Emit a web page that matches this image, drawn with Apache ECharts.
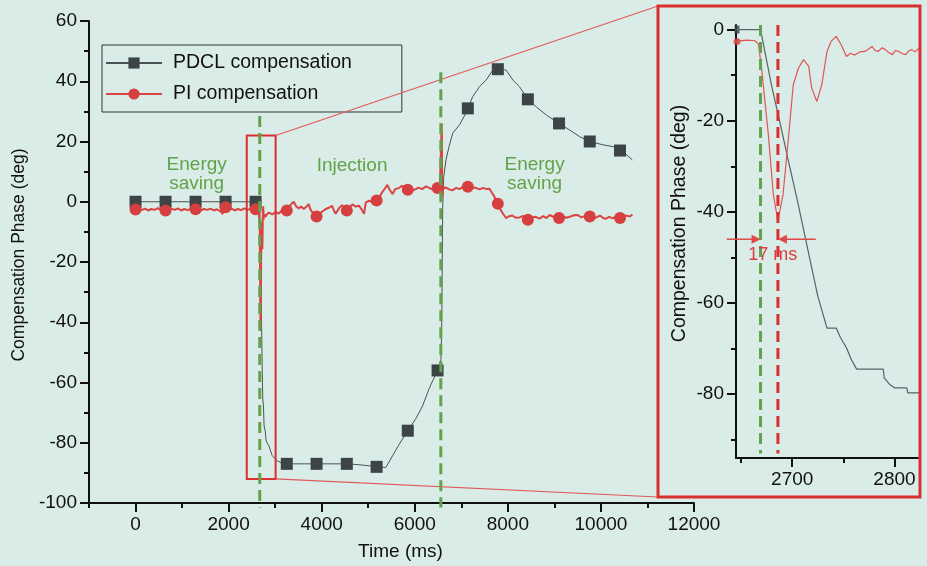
<!DOCTYPE html>
<html>
<head>
<meta charset="utf-8">
<script src="https://cdn.jsdelivr.net/npm/echarts@6/dist/echarts.min.js"></script>
<style>
html, body { margin: 0; padding: 0; background: #d9ece7; }
#chart { width: 927px; height: 566px; }
</style>
</head>
<body>
<div id="chart"></div>
<script>
// marker positions (ms) shared by both curves
var markerTime = [0, 645, 1290, 1935, 2580, 3250, 3890, 4540, 5180, 5850, 6490, 7140, 7785, 8430, 9100, 9760, 10410];
var pdclMarker = [0, 0, 0, 0, 0, -87, -87, -87, -88, -76, -56, 31, 44, 34, 26, 20, 17];
var piMarker = [-2.6, -2.9, -2.5, -1.8, -2.5, -2.9, -4.9, -2.9, 0.4, 4.0, 4.6, 5.0, -0.7, -6.0, -5.4, -4.9, -5.4];

// PDCL compensation trace [time, phase]
var pdclTrace = [
  [0, 0], [2669, 0], [2680, -12.5], [2688, -20.4], [2696, -28.6], [2705, -37.5], [2715, -48],
  [2725, -58.5], [2734, -65.5], [2743, -65.5], [2747, -67.5], [2753, -69.8], [2758, -72.5],
  [2763, -74.5], [2789, -74.5], [2790, -76.4], [2795, -77.8], [2800, -78.6], [2812, -78.6],
  [2813, -79.7], [2830, -79.7], [2865, -81], [2937, -84.3], [3044, -86], [3152, -86.8],
  [3250, -87], [3890, -87], [4540, -87], [4800, -87.3], [5000, -87.6], [5180, -88], [5378, -88.2],
  [5523, -84.3], [5666, -80.5], [5850, -76], [6023, -72], [6167, -67.8], [6310, -62], [6382, -59.5],
  [6490, -56], [6563, -52.3], [6580, -40], [6590, -20], [6600, -2], [6620, 8], [6672, 14],
  [6740, 18.5], [6816, 22.8], [6960, 25.5], [7100, 29.5], [7140, 31], [7245, 34.9], [7390, 38.2],
  [7533, 40.4], [7677, 43.7], [7785, 44], [7964, 43.7], [8107, 40.4], [8250, 38.2], [8430, 34],
  [8610, 31.5], [8826, 28.8], [9100, 26], [9328, 23.8], [9543, 21.6], [9760, 20], [10045, 18.9],
  [10260, 18.3], [10410, 17], [10547, 15.6], [10676, 13.9]
];

// PI compensation trace [time, phase]
var piTrace = [
  [0, -2.6], [60, -2.2], [130, -2.8], [200, -2.3], [270, -2.9], [340, -2.4], [410, -2.7], [480, -2.1],
  [550, -2.8], [620, -2.5], [700, -2.9], [770, -2.3], [840, -2.7], [910, -2.2], [980, -2.9], [1050, -2.4],
  [1120, -2.8], [1190, -2.3], [1260, -2.6], [1330, -2.2], [1400, -2.9], [1470, -2.4], [1540, -2.7],
  [1610, -2.3], [1680, -2.9], [1750, -2.5], [1820, -3.1], [1870, -4.0], [1935, -1.8], [1990, -2.6],
  [2060, -2.3], [2130, -2.9], [2200, -2.4], [2270, -2.8], [2340, -2.2], [2410, -2.7], [2480, -2.3],
  [2550, -2.9], [2600, -2.4], [2645, -2.6], [2655, -2.3], [2663, -2.4], [2667, -3.2],
  [2670, -8.5], [2676.6, -23], [2681.5, -36.2], [2686, -42], [2691, -36.2], [2696, -24.5], [2701, -12.1],
  [2706, -8.5], [2711, -6.6], [2716, -8], [2719, -12.8], [2724, -15.8], [2729, -12], [2734, -4.8],
  [2738, -2.6], [2743, -1.5], [2748, -3.4], [2753, -5.9], [2757, -5.2], [2761, -5.6], [2766, -4.9],
  [2771, -4.8], [2775, -4.2], [2778, -3.7], [2781, -4.6], [2784, -4.8], [2788, -4.0], [2791, -4.4],
  [2794, -5.0], [2798, -5.5], [2801, -4.6], [2804, -4.8], [2808, -5.3], [2811, -5.5], [2814, -4.7],
  [2817, -4.4], [2820, -4.9], [2824, -4.1],
  [2870, -3.6], [2940, -4.2], [3010, -3.4], [3080, -3.9], [3150, -2.8], [3250, -2.9], [3320, -1.2],
  [3400, 0], [3450, -1.5], [3505, -2.2], [3560, -1.6], [3613, -2.4], [3680, -1.5], [3720, -0.8],
  [3760, -2.6], [3800, -3.5], [3890, -4.9], [3950, -4.0], [4007, -3.3], [4080, -2.5], [4150, -2.0],
  [4222, -1.4], [4260, -2.8], [4300, -4.0], [4370, -2.2], [4437, -1.1], [4490, -2.4], [4540, -2.9],
  [4600, -1.8], [4660, -0.9], [4730, -1.6], [4800, -1.3], [4860, -2.6], [4910, -4.0], [4947, -0.3],
  [5020, 0.4], [5090, -0.2], [5180, 0.4], [5240, 1.6], [5305, 3.3], [5360, 4.4], [5410, 5.6],
  [5460, 4.0], [5523, 2.6], [5580, 4.2], [5666, 4.6], [5720, 5.3], [5775, 4.9], [5850, 4.0],
  [5900, 3.4], [5940, 3.0], [6010, 4.1], [6080, 4.7], [6160, 4.2], [6240, 5.1], [6310, 4.6],
  [6380, 4.0], [6440, 5.0], [6490, 4.6], [6540, 5.6], [6570, 5.0], [6580, 26], [6590, 1.8],
  [6610, 4.2], [6660, 4.8], [6740, 4.1], [6816, 3.8], [6890, 4.6], [6960, 4.2], [7040, 4.9],
  [7140, 5.0], [7220, 4.4], [7300, 4.7], [7390, 4.1], [7470, 4.6], [7540, 4.2], [7605, 4.3],
  [7640, 3.8], [7700, 2.0], [7785, -0.7], [7840, -2.6], [7890, -3.8], [7960, -5.4], [8030, -4.8],
  [8100, -4.6], [8170, -5.3], [8250, -5.2], [8330, -4.7], [8430, -6.0], [8510, -5.2], [8600, -5.0],
  [8680, -5.6], [8760, -4.8], [8830, -5.4], [8900, -4.4], [8990, -5.1], [9100, -5.4], [9180, -4.8],
  [9260, -5.3], [9330, -5.0], [9420, -4.5], [9500, -4.4], [9580, -5.2], [9660, -4.7], [9760, -4.9],
  [9830, -5.5], [9900, -5.2], [9980, -4.6], [10050, -5.4], [10100, -5.7], [10180, -5.0], [10250, -5.5],
  [10330, -4.9], [10410, -5.4], [10480, -4.8], [10550, -4.6], [10620, -4.9], [10676, -4.2]
];

// ticks
var xMajor = [0, 2000, 4000, 6000, 8000, 10000, 12000];
var xMinor = [-1000, 1000, 3000, 5000, 7000, 9000, 11000];
var insetXMajor = [2700, 2800];
var insetXMinor = [2650, 2750];
var insetYMajor = [-80, -60, -40, -20, 0];
var insetYMinor = [-90, -70, -50, -30, -10];

// inset edge markers (half hidden at the left axis)
var insetEdgeTime = [2646];
var insetEdgePdcl = [0];
var insetEdgePi = [-2.6];

var switchTime = [2669, 6560];
var peakTime = 2686;

var FONT = 'Liberation Sans';
var BLACK = '#111';
var GREEN = '#62a34a';
var RED = '#dc4343';
var GRAY = '#4b5355';

function withMarkers(trace, values) {
  var items = trace.map(function (p) { return { value: p, symbol: 'none' }; });
  markerTime.forEach(function (t, i) {
    items.push({ value: [t, values[i]] });
  });
  items.sort(function (a, b) { return a.value[0] - b.value[0]; });
  return items;
}

function axisBase(grid, min, max) {
  return {
    gridIndex: grid, type: 'value', min: min, max: max,
    axisLine: { show: true, onZero: false, lineStyle: { color: BLACK, width: 2 } },
    axisTick: { show: true, length: 9, lineStyle: { color: BLACK, width: 2 } },
    axisLabel: { fontSize: 19, color: BLACK, fontFamily: FONT, margin: 12,
      formatter: function (v) { return String(v); } },
    splitLine: { show: false }
  };
}
function minorAxis(grid, min, max, pos, values) {
  return {
    gridIndex: grid, type: 'value', min: min, max: max, position: pos,
    axisLine: { show: false, onZero: false },
    axisLabel: { show: false },
    axisTick: { show: true, length: 5, customValues: values, lineStyle: { color: BLACK, width: 2 } },
    splitLine: { show: false }
  };
}

var xMain = axisBase(0, -1000, 12000);
xMain.position = 'bottom';
xMain.axisTick.customValues = xMajor;
xMain.axisLabel.customValues = xMajor;
xMain.name = 'Time (ms)';
xMain.nameLocation = 'middle';
xMain.nameGap = 39;
xMain.nameTextStyle = { fontSize: 19, color: BLACK, fontFamily: FONT, padding: [0, 0, 0, 18] };

var yMain = axisBase(0, -100, 60);
yMain.position = 'left';
yMain.interval = 20;
yMain.minorTick = { show: true, splitNumber: 2, length: 5, lineStyle: { color: BLACK, width: 2 } };
yMain.name = 'Compensation Phase (deg)';
yMain.nameLocation = 'middle';
yMain.nameGap = 54;
yMain.nameTextStyle = { fontSize: 17.5, color: BLACK, fontFamily: FONT, padding: [0, 0, 0, 14] };

var xInset = axisBase(1, 2645, 2823);
xInset.position = 'bottom';
xInset.axisTick.customValues = insetXMajor;
xInset.axisLabel.customValues = insetXMajor;

var yInset = axisBase(1, -94, 1);
yInset.position = 'left';
yInset.axisTick.customValues = insetYMajor;
yInset.axisLabel.customValues = insetYMajor;
yInset.name = 'Compensation Phase (deg)';
yInset.nameLocation = 'middle';
yInset.nameGap = 46;
yInset.nameTextStyle = { fontSize: 19.5, color: BLACK, fontFamily: FONT, padding: [0, 0, 0, 36] };

var chart = echarts.init(document.getElementById('chart'));
chart.setOption({
  animation: false,
  backgroundColor: '#d9ece7',
  textStyle: { fontFamily: FONT },
  grid: [
    { left: 89, top: 21, right: 233, bottom: 62 },
    { left: 736, top: 25, right: 9, bottom: 108 }
  ],
  xAxis: [xMain, minorAxis(0, -1000, 12000, 'bottom', xMinor), xInset, minorAxis(1, 2645, 2823, 'bottom', insetXMinor)],
  yAxis: [yMain, yInset, minorAxis(1, -94, 1, 'left', insetYMinor)],
  legend: {
    left: 102, top: 45, orient: 'vertical',
    data: ['PDCL compensation', 'PI compensation'],
    itemWidth: 56, itemHeight: 14, itemGap: 11,
    padding: [8, 50, 8, 3],
    borderColor: '#333', borderWidth: 1,
    textStyle: { fontSize: 19.5, lineHeight: 20, color: BLACK, fontFamily: FONT, padding: [0, 0, 0, 6] }
  },
  series: [
    {
      name: 'PDCL compensation', type: 'line', xAxisIndex: 0, yAxisIndex: 0,
      data: withMarkers(pdclTrace, pdclMarker),
      symbol: 'rect', symbolSize: 12, showAllSymbol: true,
      lineStyle: { color: GRAY, width: 1 },
      itemStyle: { color: '#3c4446' }, z: 3
    },
    {
      name: 'PI compensation', type: 'line', xAxisIndex: 0, yAxisIndex: 0,
      data: withMarkers(piTrace, piMarker),
      symbol: 'circle', symbolSize: 12, showAllSymbol: true,
      lineStyle: { color: RED, width: 2 },
      itemStyle: { color: '#d63f3f' }, z: 4
    },
    {
      name: 'PDCL inset', type: 'line', xAxisIndex: 2, yAxisIndex: 1,
      data: pdclTrace, symbol: 'none', clip: true,
      lineStyle: { color: '#5a6264', width: 1.2 }
    },
    {
      name: 'PI inset', type: 'line', xAxisIndex: 2, yAxisIndex: 1,
      data: piTrace, symbol: 'none', clip: true,
      lineStyle: { color: '#e05555', width: 1.2 }
    },
    {
      name: 'PDCL edge', type: 'scatter', xAxisIndex: 2, yAxisIndex: 1,
      data: insetEdgeTime.map(function (t, i) { return [t, insetEdgePdcl[i]]; }),
      symbol: 'rect', symbolSize: [5, 8], itemStyle: { color: '#3c4446' }
    },
    {
      name: 'PI edge', type: 'scatter', xAxisIndex: 2, yAxisIndex: 1,
      data: insetEdgeTime.map(function (t, i) { return [t, insetEdgePi[i]]; }),
      symbol: 'circle', symbolSize: 7, itemStyle: { color: '#d63f3f' }
    }
  ]
});

// annotations placed through the axes
function pm(p) { return chart.convertToPixel({ xAxisIndex: 0, yAxisIndex: 0 }, p); }
function pi(p) { return chart.convertToPixel({ xAxisIndex: 2, yAxisIndex: 1 }, p); }

var g = [];
function dashed(a, b, color) {
  g.push({ type: 'line', z: 10, shape: { x1: a[0], y1: a[1], x2: b[0], y2: b[1] },
    style: { stroke: color, lineWidth: 3, lineDash: [11, 6] } });
}
function text(p, s, color, size) {
  g.push({ type: 'text', z: 11, x: p[0], y: p[1],
    style: { text: s, fill: color, font: size + 'px "' + FONT + '"', textAlign: 'center', textVerticalAlign: 'middle', lineHeight: 19 } });
}

var r1 = pm([2390, 22]), r2 = pm([3010, -92]);
var box = { x: 658, y: 6, w: 262, h: 491 };
g.push({ type: 'rect', z: 9, shape: { x: r1[0], y: r1[1], width: r2[0] - r1[0], height: r2[1] - r1[1] },
  style: { fill: null, stroke: '#d9302f', lineWidth: 2 } });
g.push({ type: 'line', z: 9, shape: { x1: r2[0], y1: r1[1], x2: box.x, y2: box.y },
  style: { stroke: '#e05a5a', lineWidth: 1.2 } });
g.push({ type: 'line', z: 9, shape: { x1: r2[0], y1: r2[1], x2: box.x, y2: box.y + box.h },
  style: { stroke: '#e05a5a', lineWidth: 1.2 } });
g.push({ type: 'rect', z: 9, shape: { x: box.x, y: box.y, width: box.w, height: box.h },
  style: { fill: null, stroke: '#d9302f', lineWidth: 3 } });

dashed(pm([switchTime[0], 28.5]), pm([switchTime[0], -101.5]), GREEN);
dashed(pm([switchTime[1], 43]), pm([switchTime[1], -101.5]), GREEN);
dashed(pi([switchTime[0], 1]), pi([switchTime[0], -93]), GREEN);
dashed(pi([peakTime, 1]), pi([peakTime, -93]), '#d9302f');

// 17 ms arrows
var ay = pi([0, -46])[1];
var gx = pi([switchTime[0], 0])[0], rx = pi([peakTime, 0])[0];
var lx = pi([2636, 0])[0], rrx = pi([2723, 0])[0];
g.push({ type: 'line', z: 10, shape: { x1: lx, y1: ay, x2: gx - 6, y2: ay }, style: { stroke: '#e04848', lineWidth: 1.5 } });
g.push({ type: 'polygon', z: 10, shape: { points: [[gx, ay], [gx - 9, ay - 4.5], [gx - 9, ay + 4.5]] }, style: { fill: '#e04848' } });
g.push({ type: 'line', z: 10, shape: { x1: rrx, y1: ay, x2: rx + 6, y2: ay }, style: { stroke: '#e04848', lineWidth: 1.5 } });
g.push({ type: 'polygon', z: 10, shape: { points: [[rx, ay], [rx + 9, ay - 4.5], [rx + 9, ay + 4.5]] }, style: { fill: '#e04848' } });
text(pi([2681, -49.5]), '17 ms', '#e03c3c', 18);

text(pm([1314, 9]), 'Energy\nsaving', GREEN, 19);
text(pm([4653, 12]), 'Injection', GREEN, 19);
text(pm([8574, 9]), 'Energy\nsaving', GREEN, 19);

chart.setOption({ graphic: g });
</script>
</body>
</html>
